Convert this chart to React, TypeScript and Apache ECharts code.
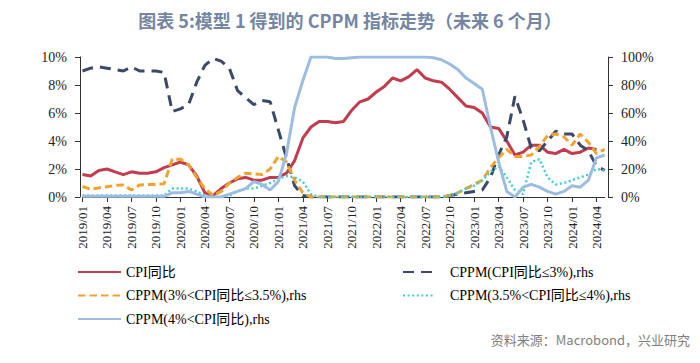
import React, { useEffect, useRef } from "react";
import * as echarts from "echarts";

// Monthly categories 2019/01 .. 2024/05
const months: string[] = [];
for (let y = 2019; y <= 2024; y++) {
  for (let m = 1; m <= 12; m++) {
    if (y === 2024 && m > 5) break;
    months.push(`${y}/${String(m).padStart(2, "0")}`);
  }
}

const titleText = "图表 5:模型 1 得到的 CPPM 指标走势（未来 6 个月）";
const sourceText = "资料来源：Macrobond，兴业研究";

const nameCPI = "CPI同比";
const nameLe3 = "CPPM(CPI同比≤3%),rhs";
const name3to35 = "CPPM(3%<CPI同比≤3.5%),rhs";
const name35to4 = "CPPM(3.5%<CPI同比≤4%),rhs";
const nameGt4 = "CPPM(4%<CPI同比),rhs";

// CPI YoY (%), left axis
const cpi = [
  1.6, 1.5, 1.9, 2.0, 1.8, 1.6, 1.8, 1.7, 1.7, 1.8, 2.1, 2.3,
  2.5, 2.3, 1.5, 0.3, 0.1, 0.6, 1.0, 1.3, 1.4, 1.2, 1.2, 1.4,
  1.4, 1.7, 2.6, 4.2, 5.0, 5.4, 5.4, 5.3, 5.4, 6.2, 6.8, 7.0,
  7.5, 7.9, 8.5, 8.3, 8.6, 9.1, 8.5, 8.3, 8.2, 7.7, 7.1, 6.5,
  6.4, 6.0, 5.0, 4.9, 4.0, 3.0, 3.2, 3.7, 3.7, 3.2, 3.1, 3.4,
  3.1, 3.2, 3.5, 3.4, null,
];

// CPPM(CPI<=3%) (%), right axis
const cppmLe3 = [
  90, 92, 93, 92, 91, 90, 93, 90, 90, 90, 89, 61,
  63, 66, 82, 94, 99, 97, 92, 76, 71, 66, 69, 68,
  48, 28, 8, 1, 0, 0, 0, 0, 0, 0, 0, 0,
  0, 0, 0, 0, 0, 0, 0, 0, 0, 1, 2, 3,
  4, 5, 14, 30, 43, 72, 55, 35, 33, 40, 47, 45,
  45, 37, 33, 22, 19,
];

// CPPM(3%<CPI<=3.5%) (%), right axis
const cppm3to35 = [
  7.5, 5.6, 6.5, 7.3, 8.3, 8.5, 5, 8.6, 9, 9, 9.5, 27,
  27, 23, 14, 6, 1, 4, 10, 14, 17, 16.5, 16, 20,
  29, 25, 12, 3, 0, 0, 0, 0, 0, 0, 0, 0,
  0, 0, 0, 0, 0, 0, 0, 0, 0, 1, 3, 6,
  9, 12, 21, 28, 34, 29, 29, 30, 36, 44, 45, 43,
  37, 45, 39, 31, 34,
];

// CPPM(3.5%<CPI<=4%) (%), right axis
const cppm35to4 = [
  1, 1, 1, 1, 1, 1, 1, 1, 1, 1, 1, 6,
  6, 6, 4, 1, 0, 0, 1, 4, 6, 6, 8, 10,
  13, 15, 14, 11, 2, 0, 0, 0, 0, 0, 0, 0,
  0, 0, 0, 0, 0, 0, 0, 0, 0, 1, 3, 6,
  8, 12, 18, 22, 14, 5, 2, 25, 27, 14, 9, 10,
  12, 14, 16, 20, 19,
];

// CPPM(CPI>4%) (%), right axis
const cppmGt4 = [
  0.5, 0.5, 0.5, 0.5, 0.5, 0.5, 0.5, 0.5, 0.5, 0.5, 0.5, 3,
  3, 4, 2, 0, 0, 0, 2, 4, 6, 11, 9, 5,
  11, 31, 64, 83, 100, 100, 100, 99, 99, 99.5, 100, 100,
  100, 100, 100, 100, 100, 100, 100, 99.5, 98, 95, 91, 85,
  81, 77, 50, 25, 4, 0, 7, 9, 7, 4, 2, 4,
  8, 7, 12, 28, 30,
];

const leftTicks = { min: 0, max: 10, interval: 2 };
const rightTicks = { min: 0, max: 100, interval: 20 };

const SERIF = '"Liberation Serif", "Times New Roman", "Noto Sans CJK SC", serif';
const SANS_CJK = '"Noto Sans CJK SC", "Noto Sans", sans-serif';

export default function App() {
  const ref = useRef<HTMLDivElement>(null);

  useEffect(() => {
    if (!ref.current) return;
    const chart = echarts.init(ref.current, undefined, { renderer: "svg" });

    const axisColor = "#333";
    const legendCommon = {
      orient: "vertical",
      top: 260,
      itemHeight: 14,
      itemGap: 9.5,
      selectedMode: false,
      itemStyle: { opacity: 0, borderWidth: 0 },
      lineStyle: { opacity: 1 },
    };
    const option: any = {
      animation: false,
      backgroundColor: "#ffffff",
      title: {
        text: titleText,
        left: "center",
        top: 6,
        textStyle: {
          fontFamily: SANS_CJK,
          fontSize: 18,
          fontWeight: "bold",
          color: "#7486a1",
        },
      },
      graphic: [
        {
          type: "text",
          right: 10,
          top: 333,
          style: {
            text: sourceText,
            fontFamily: SANS_CJK,
            fontSize: 13,
            fill: "#808080",
          },
        },
      ],
      legend: [
        {
          ...legendCommon,
          left: 72,
          itemWidth: 43,
          data: [nameCPI, name3to35, nameGt4],
          textStyle: { fontFamily: SERIF, fontSize: 14, color: "#000", lineHeight: 14 },
        },
        {
          ...legendCommon,
          left: 397,
          itemWidth: 32,
          data: [nameLe3, name35to4],
          textStyle: {
            fontFamily: SERIF,
            fontSize: 14,
            color: "#000",
            lineHeight: 14,
            padding: [0, 0, 0, 10],
          },
        },
      ],
      grid: { left: 82.5, right: 95.3, top: 57, bottom: 166 },
      xAxis: {
        type: "category",
        data: months,
        boundaryGap: false,
        axisLine: { lineStyle: { color: axisColor, width: 1 } },
        axisTick: { interval: 2, length: 5, lineStyle: { color: axisColor } },
        axisLabel: {
          interval: 2,
          rotate: 90,
          margin: 9,
          fontFamily: SERIF,
          fontSize: 13,
          color: "#222",
        },
        splitLine: { show: false },
      },
      yAxis: [
        {
          type: "value",
          ...leftTicks,
          offset: 2.5,
          axisLine: { show: true, lineStyle: { color: axisColor } },
          axisTick: { show: true, length: 5, lineStyle: { color: axisColor } },
          axisLabel: {
            formatter: "{value}%",
            margin: 13,
            fontFamily: SERIF,
            fontSize: 14,
            color: "#222",
          },
          splitLine: { show: false },
        },
        {
          type: "value",
          ...rightTicks,
          position: "right",
          offset: 3.3,
          axisLine: { show: true, lineStyle: { color: axisColor } },
          axisTick: { show: true, length: 5, lineStyle: { color: axisColor } },
          axisLabel: {
            formatter: "{value}%",
            margin: 13,
            fontFamily: SERIF,
            fontSize: 14,
            color: "#222",
          },
          splitLine: { show: false },
        },
      ],
      series: [
        {
          name: nameCPI,
          type: "line",
          yAxisIndex: 0,
          data: cpi,
          symbol: "none",
          lineStyle: { color: "#c23b4e", width: 3 },
          itemStyle: { color: "#c23b4e" },
          z: 2,
        },
        {
          name: nameLe3,
          type: "line",
          yAxisIndex: 1,
          data: cppmLe3,
          symbol: "none",
          lineStyle: { color: "#3a4a68", width: 3, type: [11, 7] },
          itemStyle: { color: "#3a4a68" },
          z: 3,
        },
        {
          name: name3to35,
          type: "line",
          yAxisIndex: 1,
          data: cppm3to35,
          symbol: "none",
          lineStyle: { color: "#f0a32f", width: 3, type: [7.5, 4] },
          itemStyle: { color: "#f0a32f" },
          z: 4,
        },
        {
          name: name35to4,
          type: "line",
          yAxisIndex: 1,
          data: cppm35to4,
          symbol: "none",
          lineStyle: { color: "#42cdd3", width: 2.5, type: [2, 2.6] },
          itemStyle: { color: "#42cdd3" },
          z: 5,
        },
        {
          name: nameGt4,
          type: "line",
          yAxisIndex: 1,
          data: cppmGt4,
          symbol: "none",
          lineStyle: { color: "#9dbde0", width: 3 },
          itemStyle: { color: "#9dbde0" },
          z: 6,
        },
      ],
    };

    chart.setOption(option);
    return () => chart.dispose();
  }, []);

  return (
    <div
      ref={ref}
      style={{ position: "absolute", left: 0, top: 0, width: 700, height: 363, background: "#fff" }}
    />
  );
}
